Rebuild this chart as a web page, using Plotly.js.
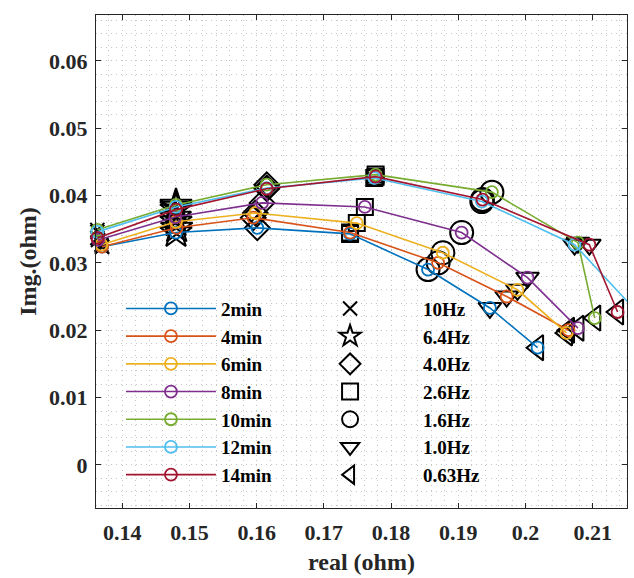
<!DOCTYPE html>
<html>
<head>
<meta charset="utf-8">
<script src="https://cdn.plot.ly/plotly-3.0.1.min.js"></script>
<style>html,body{margin:0;padding:0;background:#fff;}</style>
</head>
<body>
<div id="chart" style="width:634px;height:578px;"></div>
<script>
// Frequencies (one black marker per frequency)
var freqLabels = ['10Hz', '6.4Hz', '4.0Hz', '2.6Hz', '1.6Hz', '1.0Hz', '0.63Hz'];
// Series (time)
var seriesNames = ['2min', '4min', '6min', '8min', '10min', '12min', '14min'];

// real part (ohm), ordered by frequency 10Hz ... 0.63Hz
var real2min  = [0.1370, 0.1480, 0.1601, 0.1739, 0.1855, 0.1947, 0.2018];
var real4min  = [0.1370, 0.1481, 0.1595, 0.1739, 0.1870, 0.1972, 0.2064];
var real6min  = [0.1369, 0.1480, 0.1598, 0.1749, 0.1877, 0.1988, 0.2061];
var real8min  = [0.1364, 0.1479, 0.1608, 0.1761, 0.1905, 0.2003, 0.2078];
var real10min = [0.1363, 0.1480, 0.1615, 0.1777, 0.1950, 0.2078, 0.2103];
var real12min = [0.1363, 0.1480, 0.1615, 0.1775, 0.1935, 0.2073, 0.2152];
var real14min = [0.1363, 0.1480, 0.1615, 0.1777, 0.1936, 0.2095, 0.2137];

// imaginary part (ohm)
var img2min  = [0.0324, 0.0345, 0.0352, 0.0343, 0.0290, 0.0233, 0.0174];
var img4min  = [0.0324, 0.0352, 0.0367, 0.0345, 0.0300, 0.0250, 0.0200];
var img6min  = [0.0327, 0.0361, 0.0374, 0.0359, 0.0315, 0.0260, 0.0196];
var img8min  = [0.0334, 0.0368, 0.0389, 0.0383, 0.0345, 0.0278, 0.0203];
var img10min = [0.0349, 0.0386, 0.0416, 0.0431, 0.0405, 0.0330, 0.0218];
var img12min = [0.0346, 0.0383, 0.0411, 0.0426, 0.0391, 0.0327, 0.0242];
var img14min = [0.0337, 0.0379, 0.0410, 0.0428, 0.0394, 0.0327, 0.0227];

var xTickVals = [0.14, 0.15, 0.16, 0.17, 0.18, 0.19, 0.2, 0.21];
var xTickText = ['0.14', '0.15', '0.16', '0.17', '0.18', '0.19', '0.2', '0.21'];
var yTickVals = [0, 0.01, 0.02, 0.03, 0.04, 0.05, 0.06];
var yTickText = ['0', '0.01', '0.02', '0.03', '0.04', '0.05', '0.06'];

var realAll = [real2min, real4min, real6min, real8min, real10min, real12min, real14min];
var imgAll  = [img2min, img4min, img6min, img8min, img10min, img12min, img14min];

var colors = ['#0072BD', '#D95319', '#EDB120', '#7E2F8E', '#77AC30', '#4DBEEE', '#A2142F'];
var freqSymbols = ['x-thin', 'star-open', 'diamond-open', 'square-open', 'circle-open', 'triangle-down-open', 'triangle-left-open'];
var freqSizes = [14, 24, 19, 16, 23, 20, 22];

var FONT = 'Liberation Serif, Times New Roman, serif';
var traces = [];

// black frequency markers
for (var f = 0; f < freqLabels.length; f++) {
  var xs = [], ys = [];
  for (var s = 0; s < realAll.length; s++) { xs.push(realAll[s][f]); ys.push(imgAll[s][f]); }
  traces.push({
    type: 'scatter', mode: 'markers', x: xs, y: ys, name: freqLabels[f],
    legend: 'legend2', cliponaxis: false,
    marker: {symbol: freqSymbols[f], size: freqSizes[f], color: '#000000',
             line: {color: '#000000', width: 2}}
  });
}

// colored series
for (var s = 0; s < seriesNames.length; s++) {
  traces.push({
    type: 'scatter', mode: 'lines+markers', x: realAll[s], y: imgAll[s], name: seriesNames[s],
    legend: 'legend', cliponaxis: false,
    line: {color: colors[s], width: 1.6},
    marker: {symbol: 'circle-open', size: 12, color: colors[s], line: {color: colors[s], width: 1.8}}
  });
}

var gridCol = '#c6c6c6';
var gridDash = '1px,4px';
var axisCommon = {
  showline: true, linecolor: '#262626', linewidth: 1, mirror: 'ticks',
  ticks: 'inside', ticklen: 5, tickcolor: '#262626', tickwidth: 1,
  showgrid: true, gridcolor: gridCol, griddash: gridDash, gridwidth: 1,
  zeroline: false,
  tickfont: {family: FONT, size: 22, color: '#262626', weight: 'bold'}
};

var layout = {
  width: 634, height: 578,
  margin: {l: 96, r: 7, t: 15, b: 70},
  paper_bgcolor: '#ffffff', plot_bgcolor: '#ffffff',
  font: {family: FONT, color: '#262626'},
  xaxis: Object.assign({}, axisCommon, {
    range: [0.1361, 0.2151], tickmode: 'array', tickvals: xTickVals, ticktext: xTickText,
    ticklabelstandoff: 5,
    minor: {dtick: 0.002, tick0: 0, showgrid: true, gridcolor: gridCol, griddash: gridDash, gridwidth: 1, ticks: ''},
    title: {text: 'real (ohm)', font: {family: FONT, size: 24, color: '#262626', weight: 'bold'}, standoff: 8}
  }),
  yaxis: Object.assign({}, axisCommon, {
    range: [-0.0064, 0.0668], tickmode: 'array', tickvals: yTickVals, ticktext: yTickText,
    ticklabelstandoff: 3,
    minor: {dtick: 0.002, tick0: 0, showgrid: true, gridcolor: gridCol, griddash: gridDash, gridwidth: 1, ticks: ''},
    title: {text: 'Img.(ohm)', font: {family: FONT, size: 24, color: '#262626', weight: 'bold'}, standoff: 5}
  }),
  showlegend: true,
  legend: {
    x: 0.047, y: 0.443, xanchor: 'left', yanchor: 'top',
    bgcolor: 'rgba(0,0,0,0)', borderwidth: 0, itemwidth: 90, tracegroupgap: 0,
    font: {family: FONT, size: 19, color: '#000000', weight: 'bold'}
  },
  legend2: {
    x: 0.341, y: 0.443, xanchor: 'left', yanchor: 'top',
    bgcolor: 'rgba(0,0,0,0)', borderwidth: 0, itemwidth: 136, tracegroupgap: 0,
    font: {family: FONT, size: 19, color: '#000000', weight: 'bold'}
  }
};

Plotly.newPlot('chart', traces, layout, {displayModeBar: false, staticPlot: true});
</script>
</body>
</html>
